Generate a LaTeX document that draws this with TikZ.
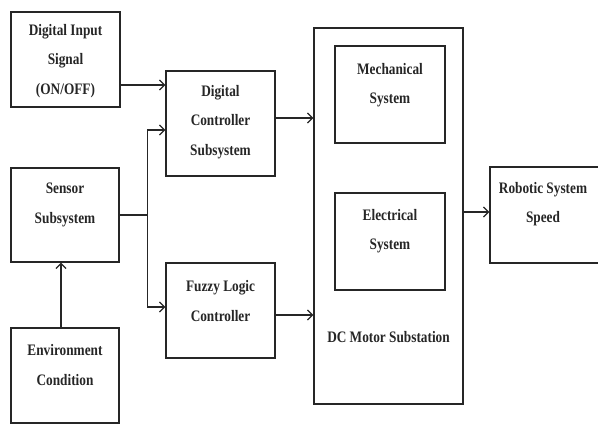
\documentclass[tikz,border=0pt]{standalone}
\usepackage{fontspec}
\setmainfont{Liberation Serif}[FakeStretch=0.83]
\usetikzlibrary{arrows.meta}
\begin{document}
\begin{tikzpicture}[x=1pt,y=-1pt,
  box/.style={draw=black!85,line width=1.4pt,inner sep=0pt},
  txt/.style={align=center,font=\fontsize{16}{29.5}\selectfont\bfseries,text=black!85},
  arr/.style={line width=1.4pt,draw=black!85,-{Straight Barb[length=5pt,width=10pt,line width=1.2pt]}},
  ln/.style={line width=1.4pt,draw=black!85}]
\useasboundingbox (0,0) rectangle (598,424);
% boxes
\node[box,minimum width=109pt,minimum height=95pt] (din) at (65.5,59.5) {};
\node[box,minimum width=109pt,minimum height=105pt] (dc) at (220.5,123.5) {};
\node[box,minimum width=108pt,minimum height=94pt] (sen) at (65,215) {};
\node[box,minimum width=108pt,minimum height=95pt] (env) at (65,375.5) {};
\node[box,minimum width=109pt,minimum height=95pt] (fz) at (220.5,310.5) {};
\node[box,minimum width=149pt,minimum height=376pt] (dcm) at (388.5,216) {};
\node[box,minimum width=110pt,minimum height=97pt] (mech) at (390,94.5) {};
\node[box,minimum width=110pt,minimum height=97pt] (elec) at (390,241.5) {};
\node[box,minimum width=112pt,minimum height=96pt] (rob) at (546,215) {};
% texts
\node[txt] (tdin) at (65.5,61) {Digital Input\\Signal\\(ON/OFF)};
\node[txt] (tdc) at (220.5,122) {Digital\\Controller\\Subsystem};
\node[txt] (tsen) at (65,205) {Sensor\\Subsystem};
\node[txt] (tenv) at (65,365) {Environment\\Condition};
\node[txt] (tfz) at (220.5,301) {Fuzzy Logic\\Controller};
\node[txt] (tmech) at (390,85) {Mechanical\\System};
\node[txt] (telec) at (390,231) {Electrical\\System};
\node[txt] (tdcm) at (388.5,337) {DC Motor Substation};
\node[txt] (trob) at (543,204) {Robotic System\\Speed};
% connectors
\coordinate (j) at ([xshift=28pt]sen.east);
\draw[arr] ([yshift=-25.5pt]din.east) -- ([yshift=-25.5pt]din.east -| dc.west);
\draw[ln] (sen.east) -- (j);
\draw[arr] (j) |- ([yshift=-6.5pt]dc.west);
\draw[arr] (j) |- ([yshift=3.5pt]fz.west);
\draw[arr] ([yshift=5.5pt]dc.east) -- ([yshift=5.5pt]dc.east -| dcm.west);
\draw[arr] ([yshift=-4.5pt]fz.east) -- ([yshift=-4.5pt]fz.east -| dcm.west);
\draw[arr] ([yshift=4pt]dcm.east) -- ([yshift=4pt]dcm.east -| rob.west);
\draw[arr] ([xshift=-4pt]env.north) -- ([xshift=-4pt]sen.south);
\end{tikzpicture}
\end{document}
